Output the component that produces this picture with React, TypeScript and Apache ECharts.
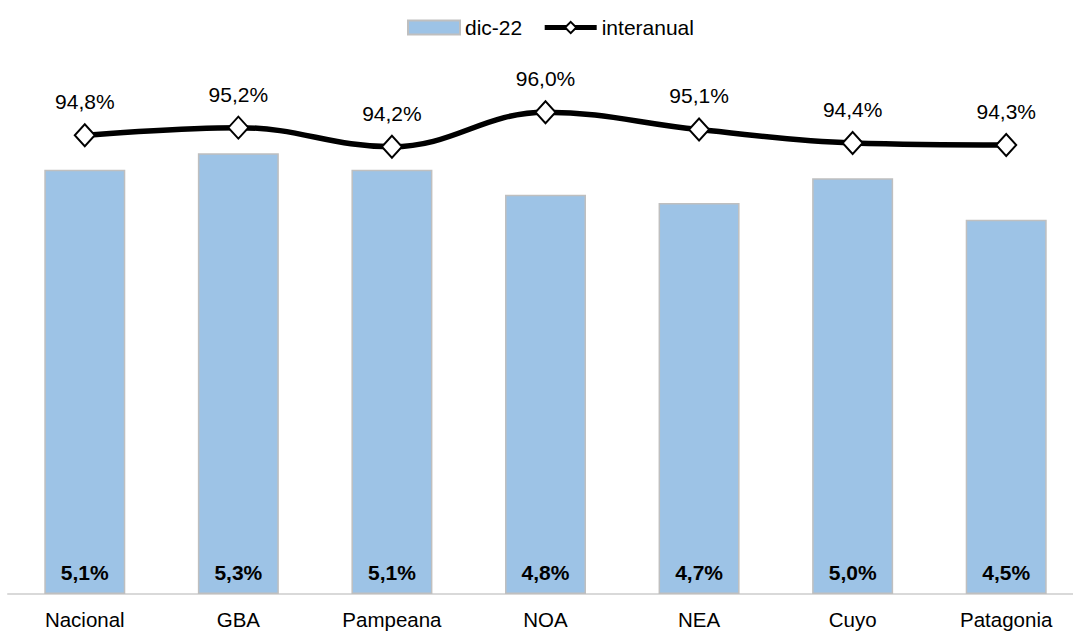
import React, { useEffect, useRef } from "react";
import * as echarts from "echarts";

const categories = ["Nacional", "GBA", "Pampeana", "NOA", "NEA", "Cuyo", "Patagonia"];
const dic22 = [5.1, 5.3, 5.1, 4.8, 4.7, 5.0, 4.5];
const interanual = [94.8, 95.2, 94.2, 96.0, 95.1, 94.4, 94.3];

const fmt = (v: number) => v.toFixed(1).replace(".", ",") + "%";
const FONT = "'Liberation Sans', Arial, sans-serif";

export default function App() {
  const ref = useRef<HTMLDivElement>(null);
  useEffect(() => {
    if (!ref.current) return;
    const chart = echarts.init(ref.current, undefined, { renderer: "svg" });
    chart.setOption({
      animation: false,
      backgroundColor: "#ffffff",
      textStyle: { fontFamily: FONT },
      legend: {
        top: 12,
        left: 402,
        itemWidth: 52,
        itemHeight: 14,
        itemGap: 20,
        textStyle: { fontSize: 21, color: "#000", fontFamily: FONT },
        data: [
          { name: "dic-22", icon: "rect" },
          { name: "interanual", lineStyle: { width: 5, color: "#000" } },
        ],
      },
      grid: { left: 8, top: 95, width: 1075, height: 499 },
      xAxis: {
        type: "category",
        data: categories,
        axisLine: { lineStyle: { color: "#d9d9d9", width: 2 } },
        axisTick: { show: false },
        axisLabel: { fontSize: 20.5, color: "#000", margin: 15, fontFamily: FONT },
      },
      yAxis: [
        { type: "value", min: 0, max: 6, show: false, splitLine: { show: false } },
        { type: "value", min: 70.9, max: 96.9, show: false, splitLine: { show: false } },
      ],
      series: [
        {
          name: "dic-22",
          type: "bar",
          data: dic22,
          barWidth: 81,
          itemStyle: { color: "#9dc3e6", borderColor: "#bfbfbf", borderWidth: 1.5 },
          label: {
            show: true,
            position: "insideBottom",
            distance: 11,
            formatter: (p: any) => fmt(p.value),
            fontSize: 21,
            fontWeight: "bold",
            color: "#000",
            fontFamily: FONT,
          },
        },
        {
          name: "interanual",
          type: "line",
          yAxisIndex: 1,
          data: interanual,
          smooth: 0.4,
          symbol: "diamond",
          symbolSize: [20, 22],
          lineStyle: { color: "#000", width: 5.5 },
          itemStyle: { color: "#fff", borderColor: "#000", borderWidth: 2 },
          label: {
            show: true,
            position: "top",
            distance: 11,
            formatter: (p: any) => fmt(p.value),
            fontSize: 21,
            color: "#000",
            fontFamily: FONT,
          },
        },
      ],
    });
    return () => chart.dispose();
  }, []);
  return (
    <div
      ref={ref}
      style={{ position: "fixed", left: 0, top: 0, width: 1090, height: 632 }}
    />
  );
}
